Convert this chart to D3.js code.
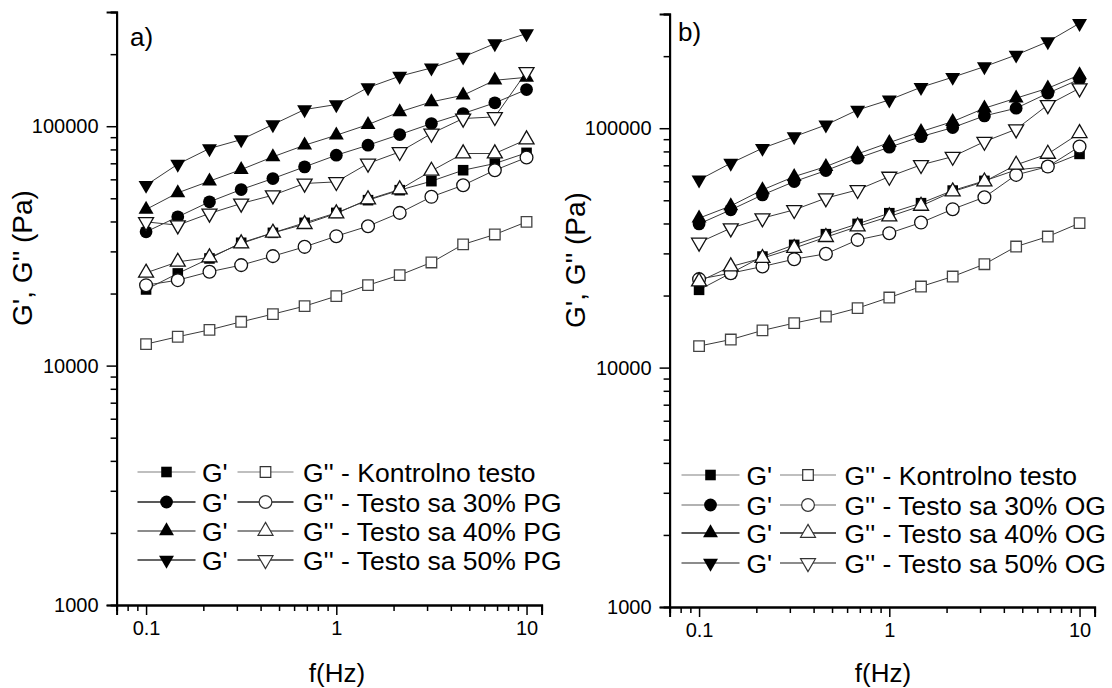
<!DOCTYPE html>
<html>
<head>
<meta charset="utf-8">
<script src="https://cdn.jsdelivr.net/npm/d3@7"></script>
<style>
  html, body { margin: 0; padding: 0; background: #fff; }
  svg { display: block; font-family: "Liberation Sans", Arial, sans-serif; }
</style>
</head>
<body>
<svg id="chart" width="1112" height="688"></svg>
<script>
// Oscillatory frequency sweep: storage (G') and loss (G'') moduli, log-log.
const freq = [0.1, 0.1468, 0.2154, 0.3162, 0.4642, 0.6813, 1, 1.468, 2.154, 3.162, 4.642, 6.813, 10];

// Panel a) – dough with PG
const gpK_a   = [20800, 24270, 28030, 32590, 35860, 39480, 43450, 49100, 54050, 58950, 65500, 69850, 77400];
const gppK_a  = [12300, 13200, 14100, 15240, 16410, 17720, 19500, 21680, 23880, 26970, 32080, 35300, 39850];
const gp30_a  = [36220, 41820, 48310, 54400, 60460, 67640, 75680, 83300, 92300, 102600, 113000, 125200, 142300];
const gpp30_a = [21680, 22750, 24650, 26290, 28660, 31340, 34730, 38230, 43450, 50700, 56700, 65500, 74000];
const gp40_a  = [44900, 52700, 58950, 65900, 74500, 83300, 91700, 101600, 114800, 126400, 134700, 155600, 160000];
const gpp40_a = [24410, 27130, 28300, 32370, 35860, 38970, 43200, 49430, 54400, 65070, 76900, 76900, 88000];
const gp50_a  = [56700, 69400, 80700, 87900, 101600, 117400, 123200, 145000, 161800, 175200, 194700, 221400, 243800];
const gpp50_a = [39850, 38600, 43200, 47550, 51500, 57650, 58550, 69850, 78130, 93200, 107700, 109400, 168600];

// Panel b) – dough with OG
const gpK_b   = [21130, 24800, 29100, 32560, 36090, 39840, 44160, 48630, 54900, 60260, 66980, 69140, 78100];
const gppK_b  = [12300, 13100, 14300, 15340, 16350, 17720, 19620, 21810, 24010, 27040, 32040, 35270, 40120];
const gp30_b  = [39840, 45600, 52650, 59840, 66530, 74930, 83300, 92230, 100600, 112600, 121200, 140000, 160200];
const gpp30_b = [23420, 24800, 26440, 28380, 29870, 34170, 36440, 40350, 45900, 51500, 63830, 69140, 83800];
const gp40_b  = [42100, 47360, 55260, 62800, 69140, 78100, 87100, 96800, 106600, 121200, 133500, 146900, 167000];
const gpp40_b = [22880, 26440, 28660, 31550, 35070, 38840, 42760, 47360, 54370, 59840, 70300, 78100, 95300];
const gp50_b  = [60830, 71440, 82500, 92230, 103200, 119200, 131300, 148300, 163300, 180800, 202300, 229900, 274400];
const gpp50_b = [33300, 38230, 42100, 45600, 51030, 55260, 62800, 70300, 76100, 87900, 99000, 125100, 146900];

const legendA = ["G'' - Kontrolno testo", "G'' - Testo sa 30% PG", "G'' - Testo sa 40% PG", "G'' - Testo sa 50% PG"];
const legendB = ["G'' - Kontrolno testo", "G'' - Testo sa 30% OG", "G'' - Testo sa 40% OG", "G'' - Testo sa 50% OG"];
const xTickLabels = [0.1, 1, 10];
const yTickLabels = [1000, 10000, 100000];
const xTitle = "f(Hz)";
const yTitle = "G', G'' (Pa)";

const svg = d3.select("#chart");

// symbol shapes per group: control, 30 %, 40 %, 50 %
const shapes = [
  {type: d3.symbolSquare,   size: 112, rot: 0},
  {type: d3.symbolCircle,   size: 128, rot: 0},
  {type: d3.symbolTriangle, size: 97,  rot: 0},
  {type: d3.symbolTriangle, size: 97,  rot: 180}
];

function drawPanel(o) {
  const x = d3.scaleLog().domain([0.07, 12]).range(o.xr);
  const y = d3.scaleLog().domain([1000, 300000]).range(o.yr);
  const g = svg.append("g");

  // axes: labelled decades plus unlabelled minor ticks
  const xMinor = [];
  [0.01, 0.1, 1, 10].forEach(dec => {
    for (let k = 1; k <= 9; k++) {
      const v = +(dec * k).toPrecision(3);
      if (v >= 0.07 && v <= 12 && !xTickLabels.includes(v)) xMinor.push(v);
    }
  });
  const yMinor = [];
  [1000, 10000, 100000].forEach(dec => {
    for (let k = 2; k <= 9; k++) {
      const v = dec * k;
      if (v <= 300000) yMinor.push(v);
    }
  });

  const xAxisG = g.append("g").attr("transform", `translate(0,${o.yr[0]})`);
  xAxisG.call(d3.axisBottom(x).tickValues(xMinor).tickSize(6).tickFormat(""));
  xAxisG.append("g").call(
    d3.axisBottom(x).tickValues(xTickLabels).tickSize(10).tickPadding(6).tickFormat(d => String(d)));
  const yAxisG = g.append("g").attr("transform", `translate(${o.xr[0]},0)`);
  yAxisG.call(d3.axisLeft(y).tickValues(yMinor).tickSize(6).tickFormat(""));
  yAxisG.append("g").call(
    d3.axisLeft(y).tickValues(yTickLabels).tickSize(10).tickPadding(8).tickFormat(d => String(d)));

  g.selectAll(".domain").attr("stroke", "#000").attr("stroke-width", 2);
  g.selectAll(".tick line").attr("stroke", "#000").attr("stroke-width", 1.5);
  g.selectAll(".tick text").attr("fill", "#000").attr("font-size", 20)
    .attr("font-family", "Liberation Sans, Arial, sans-serif");

  // titles and panel label
  g.append("text").attr("x", o.xTitleX).attr("y", 682).attr("text-anchor", "middle")
    .attr("font-size", 26).text(xTitle);
  g.append("text").attr("transform", `translate(${o.yTitleX},${o.yTitleY}) rotate(-90)`)
    .attr("text-anchor", "middle").attr("font-size", 28).text(yTitle);
  g.append("text").attr("x", o.labelX).attr("y", o.labelY).attr("font-size", 26).text(o.label);

  // connecting lines under the symbols
  const line = d3.line().x((d, i) => x(freq[i])).y(d => y(d));
  o.groups.forEach(gr => {
    [gr.gp, gr.gpp].forEach(vals => {
      g.append("path").attr("d", line(vals)).attr("fill", "none")
        .attr("stroke", "#3a3a3a").attr("stroke-width", 1);
    });
  });

  // symbols, series by series: G' (filled) then G'' (open)
  const sym = (s) => d3.symbol().type(s.type).size(s.size)();
  o.groups.forEach((gr, gi) => {
    const s = shapes[gi];
    g.append("g").selectAll("path").data(gr.gp).join("path")
      .attr("d", sym(s))
      .attr("transform", (d, i) => `translate(${x(freq[i])},${y(d)}) rotate(${s.rot})`)
      .attr("fill", "#000");
    g.append("g").selectAll("path").data(gr.gpp).join("path")
      .attr("d", sym(s))
      .attr("transform", (d, i) => `translate(${x(freq[i])},${y(d)}) rotate(${s.rot})`)
      .attr("fill", "#fff").attr("stroke", gi === 0 ? "#444" : "#111").attr("stroke-width", 1.3);
  });

  // legend
  const lg = g.append("g");
  const L = o.legX;
  o.legend.forEach((txt, i) => {
    const ly = o.legY[i];
    const s = shapes[i];
    const col = o.legColors[i];
    lg.append("line").attr("x1", L.l1).attr("x2", L.l1 + 58).attr("y1", ly).attr("y2", ly)
      .attr("stroke", col).attr("stroke-width", 1.3);
    lg.append("path").attr("d", sym(s)).attr("transform", `translate(${L.l1 + 29},${ly}) rotate(${s.rot})`)
      .attr("fill", "#000");
    lg.append("text").attr("x", L.t1).attr("y", ly + 9.5).attr("font-size", 26.5).text("G'");
    lg.append("line").attr("x1", L.l2).attr("x2", L.l2 + 56).attr("y1", ly).attr("y2", ly)
      .attr("stroke", col).attr("stroke-width", 1.3);
    lg.append("path").attr("d", sym(s)).attr("transform", `translate(${L.l2 + 28},${ly}) rotate(${s.rot})`)
      .attr("fill", "#fff").attr("stroke", "#333").attr("stroke-width", 1.2);
    lg.append("text").attr("x", L.t2).attr("y", ly + 9.5).attr("font-size", 26.5).text(txt);
  });
}

drawPanel({
  xr: [116.6, 541.6], yr: [605, 12],
  xTitleX: 337, yTitleX: 32, yTitleY: 258,
  label: "a)", labelX: 130, labelY: 46,
  groups: [
    {gp: gpK_a, gpp: gppK_a}, {gp: gp30_a, gpp: gpp30_a},
    {gp: gp40_a, gpp: gpp40_a}, {gp: gp50_a, gpp: gpp50_a}
  ],
  legend: legendA,
  legY: [472, 502, 531, 560],
  legColors: ["#aaa", "#222", "#666", "#333"],
  legX: {l1: 137.5, t1: 202, l2: 237.5, t2: 303}
});

drawPanel({
  xr: [669.6, 1094.6], yr: [607, 14],
  xTitleX: 883, yTitleX: 585, yTitleY: 260,
  label: "b)", labelX: 678, labelY: 41,
  groups: [
    {gp: gpK_b, gpp: gppK_b}, {gp: gp30_b, gpp: gpp30_b},
    {gp: gp40_b, gpp: gpp40_b}, {gp: gp50_b, gpp: gpp50_b}
  ],
  legend: legendB,
  legY: [475, 505, 533, 563],
  legColors: ["#aaa", "#999", "#222", "#666"],
  legX: {l1: 681.5, t1: 746.5, l2: 780, t2: 844.5}
});
</script>
</body>
</html>
